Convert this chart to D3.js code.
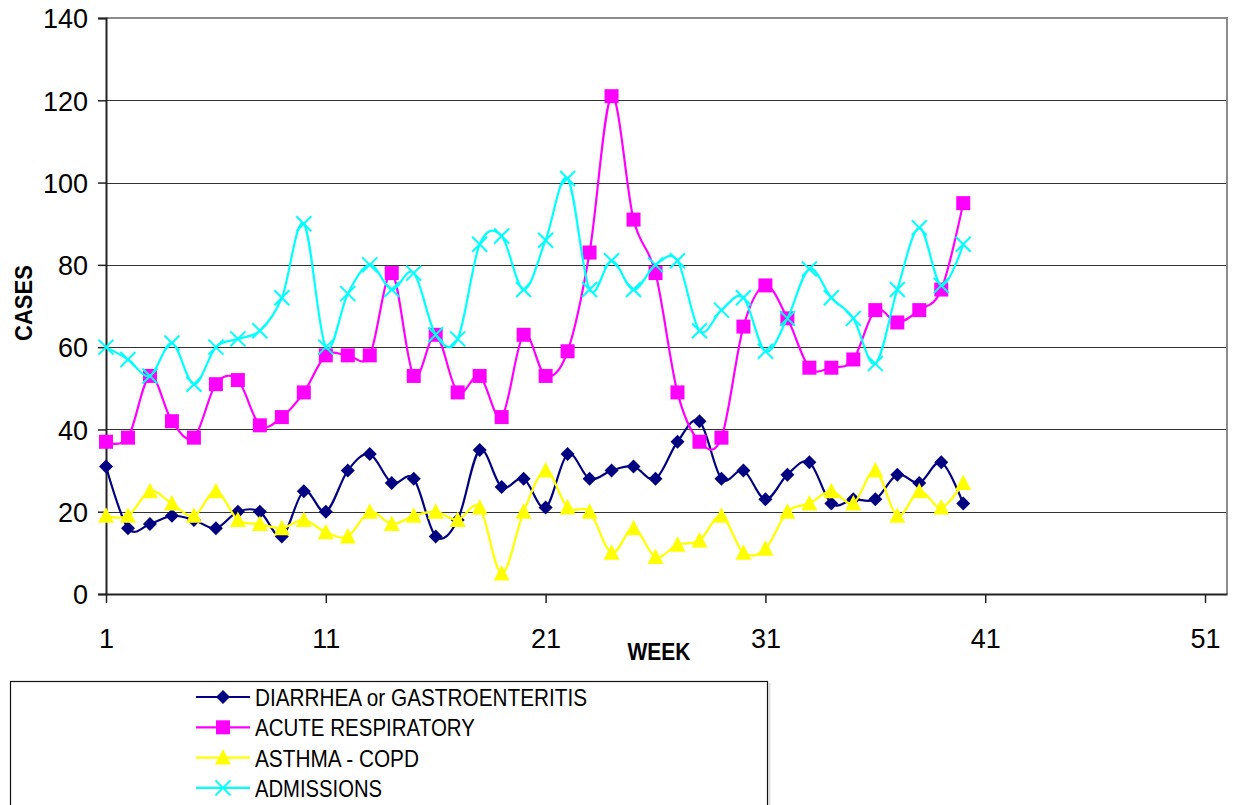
<!DOCTYPE html>
<html>
<head>
  <script src="https://d3js.org/d3.v7.min.js"></script>
  <style>
    body { margin: 0; background: #ffffff; }
    text { font-family: 'Liberation Sans', Arial, sans-serif; fill: #000; }
  </style>
</head>
<body>
  <div id="chart"></div>
  <script>
    // weekly counts
    var weeks = d3.range(1, 41);
    var diarrhea = [31,16,17,19,18,16,20,20,14,25,20,30,34,27,28,14,18,35,26,28,21,34,28,30,31,28,37,42,28,30,23,29,32,22,23,23,29,27,32,22];
    var respiratory = [37,38,53,42,38,51,52,41,43,49,58,58,58,78,53,63,49,53,43,63,53,59,83,121,91,78,49,37,38,65,75,67,55,55,57,69,66,69,74,95];
    var asthma = [19,19,25,22,19,25,18,17,16,18,15,14,20,17,19,20,18,21,5,20,30,21,20,10,16,9,12,13,19,10,11,20,22,25,22,30,19,25,21,27];
    var admissions = [60,57,53,61,51,60,62,64,72,90,60,73,80,74,78,63,62,85,87,74,86,101,74,81,74,80,81,64,69,72,59,67,79,72,67,56,74,89,75,85];

    var seriesNames = ["DIARRHEA or GASTROENTERITIS", "ACUTE RESPIRATORY", "ASTHMA - COPD", "ADMISSIONS"];
    var seriesColors = ["#000080", "#ff00ff", "#ffff00", "#00ffff"];
    var seriesMarkers = ["diamond", "square", "triangle", "cross"];
    var legendWidths = [332, 220, 164, 127];
    var xTicks = [1, 11, 21, 31, 41, 51];
    var yTicks = [0, 20, 40, 60, 80, 100, 120, 140];

    var width = 1239, height = 805;
    var plot = { left: 106, right: 1227, top: 18, bottom: 594 };

    var series = [diarrhea, respiratory, asthma, admissions].map(function (vals, i) {
      return {
        name: seriesNames[i],
        color: seriesColors[i],
        marker: seriesMarkers[i],
        textWidth: legendWidths[i],
        values: weeks.map(function (w, j) { return { week: w, value: vals[j] }; })
      };
    });

    var x = d3.scaleLinear().domain([1, 52]).range([plot.left, plot.right]);
    var y = d3.scaleLinear().domain([0, 140]).range([plot.bottom, plot.top]);

    var svg = d3.select("#chart").append("svg")
      .attr("width", width)
      .attr("height", height);

    svg.append("rect").attr("width", width).attr("height", height).attr("fill", "#fff");

    // gridlines
    svg.append("g")
      .selectAll("line")
      .data(yTicks.filter(function (d) { return d > 0 && d < 140; }))
      .enter().append("line")
      .attr("x1", plot.left).attr("x2", plot.right)
      .attr("y1", function (d) { return Math.round(y(d)) + 0.5; })
      .attr("y2", function (d) { return Math.round(y(d)) + 0.5; })
      .attr("stroke", "#333")
      .attr("stroke-width", 1);

    // plot area border (top + right, grey)
    svg.append("path")
      .attr("d", "M" + plot.left + "," + y(140) + "H" + plot.right + "V" + plot.bottom)
      .attr("fill", "none")
      .attr("stroke", "#8c8c8c")
      .attr("stroke-width", 2);

    // y axis
    var yAxis = d3.axisLeft(y).tickValues(yTicks).tickSize(8).tickPadding(10);
    var yg = svg.append("g")
      .attr("transform", "translate(" + plot.left + ",0)")
      .call(yAxis);
    yg.select(".domain").attr("stroke", "#222").attr("stroke-width", 2);
    yg.selectAll(".tick line").attr("stroke", "#222").attr("stroke-width", 1.5);
    yg.selectAll(".tick text")
      .attr("font-size", 27)
      .attr("font-family", "'Liberation Sans', Arial, sans-serif")
      .attr("x", -18)
      .attr("dy", "0.36em")
      .attr("fill", "#000");

    // x axis
    var xAxis = d3.axisBottom(x).tickValues(xTicks).tickSize(9).tickSizeOuter(0).tickPadding(0);
    var xg = svg.append("g")
      .attr("transform", "translate(0," + plot.bottom + ")")
      .call(xAxis);
    xg.select(".domain").attr("stroke", "#222").attr("stroke-width", 2);
    xg.selectAll(".tick line").attr("stroke", "#222").attr("stroke-width", 1.5);
    xg.selectAll(".tick text")
      .attr("font-size", 27)
      .attr("font-family", "'Liberation Sans', Arial, sans-serif")
      .attr("y", 54)
      .attr("dy", 0)
      .attr("fill", "#000");

    // axis titles
    svg.append("text")
      .attr("x", 659).attr("y", 660)
      .attr("text-anchor", "middle")
      .attr("font-size", 23)
      .attr("font-weight", "bold")
      .attr("textLength", 63)
      .attr("lengthAdjust", "spacingAndGlyphs")
      .text("WEEK");

    svg.append("text")
      .attr("transform", "translate(32,303) rotate(-90)")
      .attr("text-anchor", "middle")
      .attr("font-size", 24)
      .attr("font-weight", "bold")
      .attr("textLength", 76)
      .attr("lengthAdjust", "spacingAndGlyphs")
      .text("CASES");

    var line = d3.line()
      .x(function (d) { return x(d.week); })
      .y(function (d) { return y(d.value); })
      .curve(d3.curveCardinal.tension(0));

    function drawMarker(sel, type, color) {
      if (type === "cross") {
        sel.append("path")
          .attr("d", "M-7.5,-7.5L7.5,7.5M-7.5,7.5L7.5,-7.5")
          .attr("stroke", color)
          .attr("stroke-width", 2)
          .attr("fill", "none");
      } else {
        var d;
        if (type === "diamond") d = "M0,-7L7,0L0,7L-7,0Z";
        else if (type === "square") d = "M-7,-7H7V7H-7Z";
        else d = "M0,-8.5L8,7H-8Z";
        sel.append("path").attr("d", d).attr("fill", color);
      }
    }

    series.forEach(function (s) {
      var g = svg.append("g");
      g.append("path")
        .datum(s.values)
        .attr("d", line)
        .attr("fill", "none")
        .attr("stroke", s.color)
        .attr("stroke-width", 2.2);
      g.selectAll("g.pt")
        .data(s.values)
        .enter().append("g")
        .attr("class", "pt")
        .attr("transform", function (d) { return "translate(" + x(d.week) + "," + y(d.value) + ")"; })
        .each(function () { drawMarker(d3.select(this), s.marker, s.color); });
    });

    // legend
    var legend = svg.append("g");
    legend.append("line")
      .attr("x1", 769.5).attr("x2", 769.5).attr("y1", 683).attr("y2", 805)
      .attr("stroke", "#ddd").attr("stroke-width", 2);
    legend.append("rect")
      .attr("x", 10.5).attr("y", 681.5)
      .attr("width", 757).attr("height", 140)
      .attr("fill", "none")
      .attr("stroke", "#111")
      .attr("stroke-width", 1.2);

    var item = legend.selectAll("g.item")
      .data(series)
      .enter().append("g")
      .attr("class", "item")
      .attr("transform", function (d, i) { return "translate(0," + (697 + i * 30.3) + ")"; });

    item.append("line")
      .attr("x1", 196).attr("x2", 250)
      .attr("stroke", function (d) { return d.color; })
      .attr("stroke-width", 2.2);
    item.each(function (d) {
      var m = d3.select(this).append("g").attr("transform", "translate(223,0)");
      drawMarker(m, d.marker, d.color);
    });
    item.append("text")
      .attr("x", 255).attr("y", 9)
      .attr("font-size", 24)
      .attr("textLength", function (d) { return d.textWidth; })
      .attr("lengthAdjust", "spacingAndGlyphs")
      .text(function (d) { return d.name; });
  </script>
</body>
</html>
